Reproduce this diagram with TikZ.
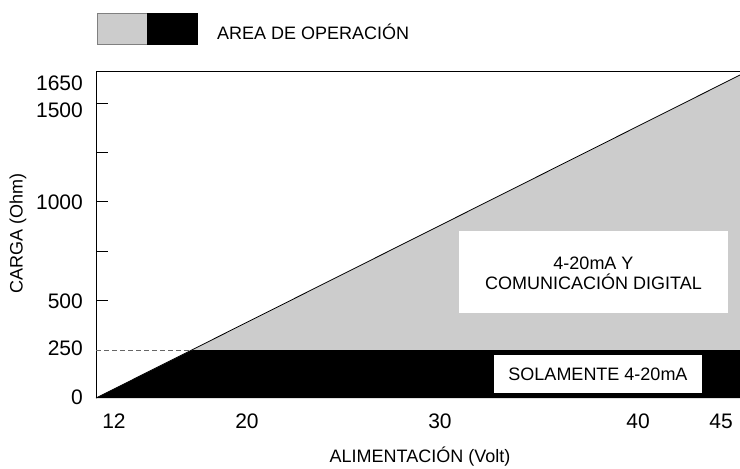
\documentclass[tikz,border=0pt]{standalone}
\usepackage{fontspec}
\setmainfont{Liberation Sans}
\definecolor{areagray}{HTML}{CCCCCC}
\begin{document}
\begin{tikzpicture}[x=1pt,y=-1pt,
  lbl/.style={font=\fontsize{18}{20}\selectfont, inner sep=0pt},
  ticklbl/.style={font=\fontsize{21}{23}\selectfont, inner sep=0pt},
  whitebox/.style={fill=white, draw=none},
  axisline/.style={line width=0.9pt}]
\useasboundingbox (0,0) rectangle (740,469);
% legend
\node[fill=areagray, draw=gray, line width=0.4pt, minimum width=50pt, minimum height=31pt, inner sep=0pt, anchor=north west] (lgray) at (97,13) {};
\node[fill=black, draw=black, minimum width=50pt, minimum height=31pt, inner sep=0pt, anchor=north west] (lblack) at (147,13) {};
\node[lbl, anchor=west] (legtxt) at (217,32) {AREA DE OPERACIÓN};
% regions
\coordinate (o) at (96,398);
\coordinate (k) at (192,350);
\coordinate (re) at (740,350);
\coordinate (rb) at (740,398);
\coordinate (rt) at (740,75);
\fill[areagray] (k) -- (rt) -- (re) -- cycle;
\fill[black] (o) -- (k) -- (re) -- (rb) -- cycle;
\draw[line width=0.8pt] (o) -- (rt);
% axes
\coordinate (tl) at (96,71);
\coordinate (tr) at (740,71);
\draw[axisline] (o) -- (tl) -- (tr);
% dashed line at 250
\coordinate (d0) at (96,350);
\draw[dashed, dash pattern=on 5pt off 3pt, gray!80!black, line width=0.7pt] (d0) -- (k);
% ticks
\foreach \yy/\nm in {103/t1500,152/t1250,201/t1000,251/t750,300/t500}{
  \coordinate (\nm a) at (96,\yy);
  \coordinate (\nm b) at (108,\yy);
  \draw[line width=0.7pt] (\nm a) -- (\nm b);
}
% tick labels
\node[ticklbl, anchor=east] (y1650) at (83,83) {1650};
\node[ticklbl, anchor=east] (y1500) at (83,110) {1500};
\node[ticklbl, anchor=east] (y1000) at (83,202) {1000};
\node[ticklbl, anchor=east] (y500) at (83,301) {500};
\node[ticklbl, anchor=east] (y250) at (83,348) {250};
\node[ticklbl, anchor=east] (y0) at (83,397) {0};
\node[ticklbl] (x12) at (114,421) {12};
\node[ticklbl] (x20) at (247,421) {20};
\node[ticklbl] (x30) at (440,421) {30};
\node[ticklbl] (x40) at (638,421) {40};
\node[ticklbl] (x45) at (721,421) {45};
% axis titles
\node[lbl, anchor=base] (xtitle) at (420,462) {ALIMENTACIÓN (Volt)};
\node[lbl, rotate=90] (ytitle) at (18,233) {CARGA (Ohm)};
% boxes
\node[whitebox, minimum width=269pt, minimum height=82pt, inner sep=0pt] (digbox) at (593.5,272) {};
\node[lbl, align=center] (digtxt) at (593.5,273) {4-20mA Y\\COMUNICACIÓN DIGITAL};
\node[whitebox, minimum width=208pt, minimum height=38pt, inner sep=0pt] (solbox) at (598,374) {};
\node[lbl] (soltxt) at (598,374) {SOLAMENTE 4-20mA};
\end{tikzpicture}
\end{document}
